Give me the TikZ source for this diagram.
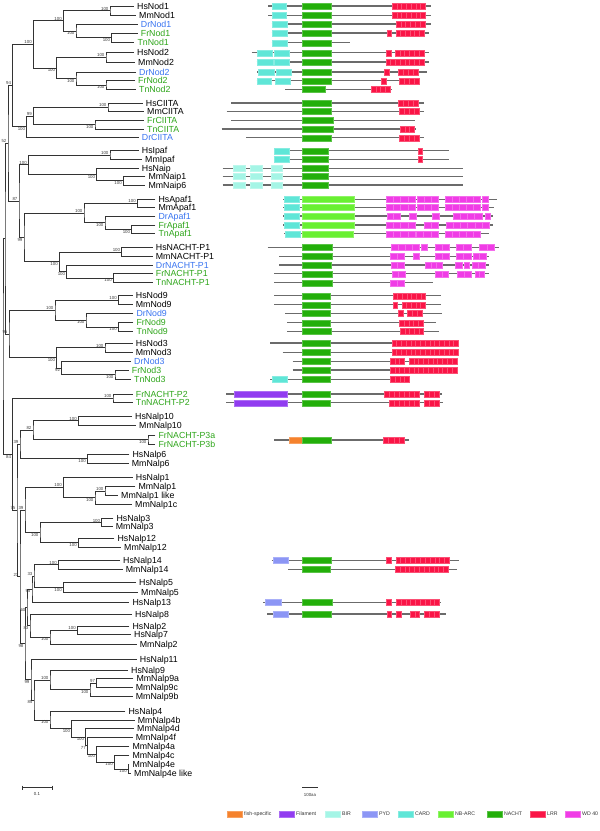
\documentclass[tikz,border=0pt]{standalone}
\usepackage{fontspec}
\setmainfont{Liberation Sans}
\usetikzlibrary{calc}

\definecolor{drblue}{RGB}{55,115,240}
\definecolor{fishgreen}{RGB}{45,165,25}
\definecolor{cCARD}{RGB}{95,230,215}
\definecolor{cBIR}{RGB}{165,245,230}
\definecolor{cNACHT}{RGB}{35,175,10}
\definecolor{cNBARC}{RGB}{105,240,50}
\definecolor{cLRR}{RGB}{250,20,70}
\definecolor{cWD}{RGB}{240,60,230}
\definecolor{cPYD}{RGB}{140,150,245}
\definecolor{cFil}{RGB}{145,60,240}
\definecolor{cFish}{RGB}{245,130,45}

% leaf: name, tip x, y, text, colour
\newcommand\leafat[5]{%
  \coordinate (#1) at (#2,#3);
  \node[leaf,text=#5] (#1-t) at (#1) {#4};}
% inner node: name, x, child, child
\newcommand\joinbare[4]{%
  \path let \p3=($(#3)!0.5!(#4)$) in coordinate (#1) at (#2pt,\y3);
  \draw[br] (#3) -| (#1) |- (#4);}
% inner node with bootstrap value
\newcommand\joinat[6]{%
  \joinbare{#1}{#2}{#3}{#4}
  \node[#6] (#1-bs) at (#1) {#5};}
% protein row: y, start, end, domains
\newcommand\protrow[4]{%
  \begin{scope}[yshift=-#1pt]
    \draw[bb] (#2,0) -- (#3,0);
    #4
  \end{scope}}
\newcommand\dbox[3]{\path[#1] (#2,-3) rectangle (#3,3);}
\newcommand\drep[4]{\foreach \k in {1,...,#4}{%
  \path[#1] ({#2+(\k-1)*(#3-#2)/#4},-3) rectangle ({#2+\k*(#3-#2)/#4},3);}}

\begin{document}
\begin{tikzpicture}[x=1pt,y=-1pt,
    br/.style={line width=0.75pt,black!80},
    bb/.style={line width=1.1pt,black!58},
    leaf/.style={anchor=base west,inner xsep=3pt,inner ysep=0pt,yshift=-3.1pt,
      font=\fontsize{8.8}{9}\selectfont},
    bsup/.style={anchor=south east,inner sep=0.4pt,xshift=-1pt,
      font=\fontsize{4.4}{5}\selectfont,text=black!75},
    bsdn/.style={bsup,anchor=north east},
    dcard/.style={fill=cCARD,draw=cCARD!75!white,line width=0.25pt},
    dbir/.style={fill=cBIR,draw=cBIR!75!white,line width=0.25pt},
    dnacht/.style={fill=cNACHT,draw=cNACHT!75!white,line width=0.25pt},
    dnbarc/.style={fill=cNBARC,draw=cNBARC!75!white,line width=0.25pt},
    dlrr/.style={fill=cLRR,draw=cLRR!75!white,line width=0.25pt},
    dwd/.style={fill=cWD,draw=cWD!75!white,line width=0.25pt},
    dpyd/.style={fill=cPYD,draw=cPYD!75!white,line width=0.25pt},
    dfil/.style={fill=cFil,draw=cFil!75!white,line width=0.25pt},
    dfish/.style={fill=cFish,draw=cFish!75!white,line width=0.25pt},
    lg/.style={anchor=west,inner sep=0pt,font=\fontsize{5.2}{6}\selectfont,text=black!80},
    sc/.style={inner sep=0pt,font=\fontsize{4.4}{5}\selectfont,text=black!80}]
  \useasboundingbox (0,0) rectangle (600,831);

  % leaves
  \leafat{HsNod1}{134}{6}{HsNod1}{black}
  \leafat{MmNod1}{136}{15.3}{MmNod1}{black}
  \leafat{DrNod1}{137.7}{24}{DrNod1}{drblue}
  \leafat{FrNod1}{137.7}{33}{FrNod1}{fishgreen}
  \leafat{TnNod1}{134.3}{42.7}{TnNod1}{fishgreen}
  \leafat{HsNod2}{134}{52.7}{HsNod2}{black}
  \leafat{MmNod2}{135}{62}{MmNod2}{black}
  \leafat{DrNod2}{136}{72}{DrNod2}{drblue}
  \leafat{FrNod2}{135}{80.7}{FrNod2}{fishgreen}
  \leafat{TnNod2}{136}{89.3}{TnNod2}{fishgreen}
  \leafat{HsCIITA}{142.7}{103}{HsCIITA}{black}
  \leafat{MmCIITA}{144}{111.5}{MmCIITA}{black}
  \leafat{FrCIITA}{144}{120.3}{FrCIITA}{fishgreen}
  \leafat{TnCIITA}{144}{129}{TnCIITA}{fishgreen}
  \leafat{DrCIITA}{138.7}{137.7}{DrCIITA}{drblue}
  \leafat{HsIpaf}{138.7}{150.7}{HsIpaf}{black}
  \leafat{MmIpaf}{142}{159.3}{MmIpaf}{black}
  \leafat{HsNaip}{138.7}{168.3}{HsNaip}{black}
  \leafat{MmNaip1}{145.3}{176.5}{MmNaip1}{black}
  \leafat{MmNaip6}{145.3}{185}{MmNaip6}{black}
  \leafat{HsApaf1}{155.3}{199.3}{HsApaf1}{black}
  \leafat{MmApaf1}{155.3}{207.5}{MmApaf1}{black}
  \leafat{DrApaf1}{155.3}{216}{DrApaf1}{drblue}
  \leafat{FrApaf1}{155.3}{225}{FrApaf1}{fishgreen}
  \leafat{TnApaf1}{155.3}{233.7}{TnApaf1}{fishgreen}
  \leafat{HsNACHT-P1}{152.7}{247.5}{HsNACHT-P1}{black}
  \leafat{MmNACHT-P1}{152.7}{256.3}{MmNACHT-P1}{black}
  \leafat{DrNACHT-P1}{152.7}{265}{DrNACHT-P1}{drblue}
  \leafat{FrNACHT-P1}{152.7}{273.7}{FrNACHT-P1}{fishgreen}
  \leafat{TnNACHT-P1}{152.7}{282.7}{TnNACHT-P1}{fishgreen}
  \leafat{HsNod9}{132.7}{295.7}{HsNod9}{black}
  \leafat{MmNod9}{132.7}{304.8}{MmNod9}{black}
  \leafat{DrNod9}{133.3}{313.5}{DrNod9}{drblue}
  \leafat{FrNod9}{133.3}{322.7}{FrNod9}{fishgreen}
  \leafat{TnNod9}{133.3}{331.5}{TnNod9}{fishgreen}
  \leafat{HsNod3}{132.7}{343}{HsNod3}{black}
  \leafat{MmNod3}{132.7}{352.5}{MmNod3}{black}
  \leafat{DrNod3}{131}{361.3}{DrNod3}{drblue}
  \leafat{FrNod3}{128.7}{370}{FrNod3}{fishgreen}
  \leafat{TnNod3}{131}{379.2}{TnNod3}{fishgreen}
  \leafat{FrNACHT-P2}{132.7}{394}{FrNACHT-P2}{fishgreen}
  \leafat{TnNACHT-P2}{132.7}{402.8}{TnNACHT-P2}{fishgreen}
  \leafat{HsNalp10}{132}{416}{HsNalp10}{black}
  \leafat{MmNalp10}{136}{425.3}{MmNalp10}{black}
  \leafat{FrNACHT-P3a}{155.3}{435.3}{FrNACHT-P3a}{fishgreen}
  \leafat{FrNACHT-P3b}{155.3}{444}{FrNACHT-P3b}{fishgreen}
  \leafat{HsNalp6}{129.3}{454}{HsNalp6}{black}
  \leafat{MmNalp6}{128.7}{463.3}{MmNalp6}{black}
  \leafat{HsNalp1}{132.7}{477.3}{HsNalp1}{black}
  \leafat{MmNalp1}{135.3}{486.7}{MmNalp1}{black}
  \leafat{MmNalp1like}{118}{495.3}{MmNalp1 like}{black}
  \leafat{MmNalp1c}{132}{504}{MmNalp1c}{black}
  \leafat{HsNalp3}{113.3}{518.7}{HsNalp3}{black}
  \leafat{MmNalp3}{112.7}{526.7}{MmNalp3}{black}
  \leafat{HsNalp12}{114.3}{538}{HsNalp12}{black}
  \leafat{MmNalp12}{121}{547.3}{MmNalp12}{black}
  \leafat{HsNalp14}{120}{560.3}{HsNalp14}{black}
  \leafat{MmNalp14}{122.7}{569.3}{MmNalp14}{black}
  \leafat{HsNalp5}{136}{582.7}{HsNalp5}{black}
  \leafat{MmNalp5}{138}{592}{MmNalp5}{black}
  \leafat{HsNalp13}{129.3}{602.5}{HsNalp13}{black}
  \leafat{HsNalp8}{132}{614}{HsNalp8}{black}
  \leafat{HsNalp2}{129.3}{626.7}{HsNalp2}{black}
  \leafat{HsNalp7}{131}{634.5}{HsNalp7}{black}
  \leafat{MmNalp2}{136.7}{644}{MmNalp2}{black}
  \leafat{HsNalp11}{136.7}{659.3}{HsNalp11}{black}
  \leafat{HsNalp9}{128}{670}{HsNalp9}{black}
  \leafat{MmNalp9a}{133.3}{678.5}{MmNalp9a}{black}
  \leafat{MmNalp9c}{132.7}{687.3}{MmNalp9c}{black}
  \leafat{MmNalp9b}{132.7}{696.7}{MmNalp9b}{black}
  \leafat{HsNalp4}{125.3}{711.3}{HsNalp4}{black}
  \leafat{MmNalp4b}{134.7}{720}{MmNalp4b}{black}
  \leafat{MmNalp4d}{134}{728.7}{MmNalp4d}{black}
  \leafat{MmNalp4f}{132.7}{737.3}{MmNalp4f}{black}
  \leafat{MmNalp4a}{129.3}{746}{MmNalp4a}{black}
  \leafat{MmNalp4c}{129.3}{755.3}{MmNalp4c}{black}
  \leafat{MmNalp4e}{129.3}{764.5}{MmNalp4e}{black}
  \leafat{MmNalp4elike}{131}{773.3}{MmNalp4e like}{black}

  % Nod1 / Nod2 / CIITA
  \joinat{a1}{110}{HsNod1}{MmNod1}{100}{bsup}
  \joinat{a2}{111.7}{FrNod1}{TnNod1}{100}{bsdn}
  \joinat{a3}{76}{DrNod1}{a2}{100}{bsdn}
  \joinat{a4}{63.3}{a1}{a3}{100}{bsup}
  \joinat{b1}{106}{HsNod2}{MmNod2}{100}{bsup}
  \joinat{b2}{106}{FrNod2}{TnNod2}{100}{bsdn}
  \joinat{b3}{76}{DrNod2}{b2}{100}{bsdn}
  \joinat{b4}{56.7}{b1}{b3}{100}{bsdn}
  \joinat{nod}{33.3}{a4}{b4}{100}{bsup}
  \joinat{c1}{108}{HsCIITA}{MmCIITA}{100}{bsup}
  \joinat{c2}{95}{FrCIITA}{TnCIITA}{100}{bsdn}
  \joinat{c3}{33.3}{c1}{c2}{99}{bsup}
  \joinat{c4}{26.7}{c3}{DrCIITA}{100}{bsdn}
  \joinat{n94}{12.7}{nod}{c4}{94}{bsup}
  % Ipaf / Naip / Apaf1 / NACHT-P1
  \joinat{d1}{110}{HsIpaf}{MmIpaf}{100}{bsup}
  \joinat{d2}{123.3}{MmNaip1}{MmNaip6}{100}{bsdn}
  \joinat{d3}{96.7}{HsNaip}{d2}{100}{bsdn}
  \joinat{d4}{28.3}{d1}{d3}{100}{bsup}
  \joinat{e1}{137.3}{HsApaf1}{MmApaf1}{100}{bsup}
  \joinat{e2}{131.7}{FrApaf1}{TnApaf1}{100}{bsdn}
  \joinat{e3}{105}{DrApaf1}{e2}{100}{bsdn}
  \joinat{e4}{84}{e1}{e3}{100}{bsup}
  \joinat{f1}{121.7}{HsNACHT-P1}{MmNACHT-P1}{100}{bsup}
  \joinat{f2}{113.3}{FrNACHT-P1}{TnNACHT-P1}{100}{bsdn}
  \joinat{f3}{66.7}{DrNACHT-P1}{f2}{100}{bsdn}
  \joinat{f4}{59.3}{f1}{f3}{100}{bsdn}
  \joinat{e5}{24}{e4}{f4}{99}{bsdn}
  \joinat{n87}{19}{d4}{e5}{87}{bsup}
  \joinat{n52}{8}{n94}{n87}{52}{bsup}
  % Nod9 / Nod3
  \joinat{h1}{118.3}{HsNod9}{MmNod9}{100}{bsup}
  \joinat{h2}{118.3}{FrNod9}{TnNod9}{100}{bsdn}
  \joinat{h3}{86}{DrNod9}{h2}{100}{bsdn}
  \joinat{h4}{55}{h1}{h3}{100}{bsup}
  \joinat{i1}{105}{HsNod3}{MmNod3}{100}{bsup}
  \joinat{i2}{115}{FrNod3}{TnNod3}{100}{bsdn}
  \joinat{i3}{61.7}{DrNod3}{i2}{92}{bsdn}
  \joinat{i4}{56.7}{i1}{i3}{100}{bsdn}
  \joinat{n95}{9}{h4}{i4}{95}{bsup}
  \joinbare{up}{5}{n52}{n95}
  % NACHT-P2 / Nalps
  \joinat{p1}{113}{FrNACHT-P2}{TnNACHT-P2}{100}{bsup}
  \joinat{q1}{78.3}{HsNalp10}{MmNalp10}{100}{bsup}
  \joinat{q2}{148}{FrNACHT-P3a}{FrNACHT-P3b}{100}{bsdn}
  \joinat{q3}{33}{q1}{q2}{82}{bsup}
  \joinat{q4}{87.3}{HsNalp6}{MmNalp6}{100}{bsdn}
  \joinat{q5}{20}{q3}{q4}{39}{bsup}
  \joinat{r1}{105}{MmNalp1}{MmNalp1like}{100}{bsup}
  \joinat{r2}{95}{r1}{MmNalp1c}{100}{bsdn}
  \joinat{r3}{63.3}{HsNalp1}{r2}{100}{bsup}
  \joinat{s1}{101.7}{HsNalp3}{MmNalp3}{100}{bsup}
  \joinat{s2}{78.3}{HsNalp12}{MmNalp12}{100}{bsdn}
  \joinat{s3}{40}{s1}{s2}{100}{bsdn}
  \joinat{t1}{25}{r3}{s3}{39}{bsup}
  \joinat{u1}{58.3}{HsNalp14}{MmNalp14}{100}{bsup}
  \joinat{u2}{63.3}{HsNalp5}{MmNalp5}{100}{bsdn}
  \joinat{u3}{34}{u1}{u2}{33}{bsup}
  \joinat{u4}{32}{u3}{HsNalp13}{95}{bsdn}
  \joinat{v1}{77.3}{HsNalp2}{HsNalp7}{100}{bsup}
  \joinat{v2}{50}{v1}{MmNalp2}{100}{bsdn}
  \joinat{v3}{30}{HsNalp8}{v2}{83}{bsdn}
  \joinat{v4}{27}{u4}{v3}{60}{bsdn}
  \joinat{x1}{96.7}{MmNalp9a}{MmNalp9c}{97}{bsup}
  \joinat{x2}{90}{x1}{MmNalp9b}{100}{bsdn}
  \joinat{x3}{50}{HsNalp9}{x2}{100}{bsup}
  \joinat{y1}{128.3}{MmNalp4e}{MmNalp4elike}{100}{bsdn}
  \joinat{y2}{114.3}{MmNalp4c}{y1}{100}{bsdn}
  \joinat{y3}{96.7}{MmNalp4a}{y2}{100}{bsdn}
  \joinat{y4}{87.3}{MmNalp4f}{y3}{77}{bsdn}
  \joinat{y5}{85.7}{MmNalp4d}{y4}{100}{bsdn}
  \joinat{y6}{71.7}{MmNalp4b}{y5}{100}{bsdn}
  \joinat{y7}{50}{HsNalp4}{y6}{100}{bsdn}
  \joinat{y8}{34}{x3}{y7}{85}{bsdn}
  \joinat{x4}{31}{HsNalp11}{y8}{99}{bsdn}
  \joinat{z1}{25}{v4}{x4}{98}{bsdn}
  \joinat{w1}{20}{t1}{z1}{23}{bsup}
  \joinat{n75}{17}{q5}{w1}{75}{bsup}
  \joinat{n84}{12.7}{p1}{n75}{84}{bsdn}
  \joinbare{root}{3}{up}{n84}

  % tree scale
  \coordinate (sa) at (22,787.7);
  \coordinate (sb) at (52,787.7);
  \draw[br,line width=0.6pt] (sa) -- (sb) ($(sa)+(0,-2)$) -- ($(sa)+(0,2)$) ($(sb)+(0,-2)$) -- ($(sb)+(0,2)$);
  \node[sc] (sc-t) at (37,793.5) {0.1};

  % domain architectures
  \protrow{6}{268.3}{430.7}{\dbox{dcard}{271.7}{286}\dbox{dnacht}{301.7}{331}\drep{dlrr}{392}{425.3}{7}}
  \protrow{15.3}{268.3}{430.7}{\dbox{dcard}{271.7}{286}\dbox{dnacht}{301.7}{331}\drep{dlrr}{392}{425.3}{7}}
  \protrow{24}{271.7}{430.7}{\dbox{dcard}{271.7}{286.7}\dbox{dnacht}{301.7}{331}\drep{dlrr}{396}{424.7}{6}}
  \protrow{33}{271.7}{429.3}{\dbox{dcard}{271.7}{286.7}\dbox{dnacht}{301.7}{331}\drep{dlrr}{386.7}{391.3}{1}\drep{dlrr}{395.7}{424}{6}}
  \protrow{42.7}{271.7}{350}{\dbox{dcard}{271.7}{286.7}\dbox{dnacht}{301.7}{331}}
  \protrow{52.7}{251.7}{429.3}{\dbox{dcard}{257.3}{272.3}\dbox{dcard}{274}{289}\dbox{dnacht}{301.7}{331}\drep{dlrr}{385.7}{391}{1}\drep{dlrr}{395}{423.7}{6}}
  \protrow{62}{256.7}{429.3}{\dbox{dcard}{257.3}{273.3}\dbox{dcard}{274}{289}\dbox{dnacht}{301.7}{331}\drep{dlrr}{385.7}{423.7}{8}}
  \protrow{72}{257.3}{426.7}{\dbox{dcard}{258}{274}\dbox{dcard}{276}{290.7}\dbox{dnacht}{301.7}{331}\drep{dlrr}{384}{389.3}{1}\drep{dlrr}{398.3}{417.7}{4}}
  \protrow{80.7}{256.7}{419.3}{\dbox{dcard}{257.3}{270.7}\dbox{dcard}{275}{289.7}\dbox{dnacht}{301.7}{331}\drep{dlrr}{381}{385.7}{1}\drep{dlrr}{399.3}{419}{4}}
  \protrow{89.3}{285}{391.7}{\dbox{dnacht}{301.7}{325}\drep{dlrr}{371}{390}{4}}
  \protrow{103}{231}{424}{\dbox{dnacht}{301.7}{331}\drep{dlrr}{398.3}{418.3}{4}}
  \protrow{111.5}{226.7}{424}{\dbox{dnacht}{301.7}{331}\drep{dlrr}{399}{418.7}{4}}
  \protrow{120.3}{231}{415}{\dbox{dnacht}{301.7}{332.7}}
  \protrow{129}{221.7}{416}{\dbox{dnacht}{302.3}{333.3}\drep{dlrr}{400}{414}{3}}
  \protrow{137.7}{246}{424}{\dbox{dnacht}{301.7}{331}\drep{dlrr}{399.3}{418.7}{4}}
  \protrow{150.7}{274}{448.7}{\dbox{dcard}{274}{289}\dbox{dnacht}{301.7}{327.7}\drep{dlrr}{418.3}{422.3}{1}}
  \protrow{159.3}{274}{448.7}{\dbox{dcard}{274}{289}\dbox{dnacht}{301.7}{327.7}\drep{dlrr}{418.3}{422.3}{1}}
  \foreach \yy in {168.3,176.5,185}{
    \protrow{\yy}{222.7}{462.7}{\dbox{dbir}{233.3}{245}\dbox{dbir}{250}{262}\dbox{dbir}{270.7}{282}\dbox{dnacht}{301.7}{328.3}}}
  \protrow{199.3}{283.3}{497}{\dbox{dcard}{284}{298.7}\dbox{dnbarc}{301.7}{354}\drep{dwd}{386}{415}{4}\drep{dwd}{416.7}{438.3}{3}\drep{dwd}{445}{480}{5}\drep{dwd}{482.3}{487.7}{1}}
  \protrow{207.5}{283.3}{494}{\dbox{dcard}{284}{298.7}\dbox{dnbarc}{301.7}{354}\drep{dwd}{386}{415}{4}\drep{dwd}{416.7}{438.3}{3}\drep{dwd}{445}{480}{5}\drep{dwd}{482.3}{487.7}{1}}
  \protrow{216}{283.3}{492.7}{\dbox{dcard}{284}{298.7}\dbox{dnbarc}{301.7}{354}\drep{dwd}{386.7}{400}{2}\drep{dwd}{409}{415.7}{1}\drep{dwd}{432.3}{439}{1}\drep{dwd}{453.3}{481.7}{4}\drep{dwd}{485}{490}{1}}
  \protrow{225}{283.3}{492.7}{\dbox{dcard}{284}{298.7}\dbox{dnbarc}{301.7}{354}\drep{dwd}{386}{415}{4}\drep{dwd}{424}{438.3}{2}\drep{dwd}{445.7}{489.3}{6}}
  \protrow{233.7}{284}{489.3}{\dbox{dcard}{285}{300}\dbox{dnbarc}{301.7}{353.3}\drep{dwd}{385.7}{415}{4}\drep{dwd}{415.7}{438.3}{3}\drep{dwd}{445}{480}{5}}
  \protrow{247.5}{267.7}{499}{\dbox{dnacht}{301.7}{331.7}\drep{dwd}{390.7}{419.3}{4}\drep{dwd}{421}{427.3}{1}\drep{dwd}{435}{449}{2}\drep{dwd}{456}{471}{2}\drep{dwd}{479.3}{494}{2}}
  \protrow{256.3}{279.3}{489.3}{\dbox{dnacht}{301.7}{331.7}\drep{dwd}{390}{404}{2}\drep{dwd}{412.7}{419.3}{1}\drep{dwd}{435}{449}{2}\drep{dwd}{456}{470.7}{2}\drep{dwd}{472.7}{486}{2}}
  \protrow{265}{279.3}{489.3}{\dbox{dnacht}{301.7}{331}\drep{dwd}{390.7}{404}{2}\drep{dwd}{425}{442.3}{3}\drep{dwd}{455}{461.7}{1}\drep{dwd}{464.3}{469.3}{1}\drep{dwd}{471.7}{485}{2}}
  \protrow{273.7}{274}{489.3}{\dbox{dnacht}{302.3}{331.7}\drep{dwd}{391.7}{405}{2}\drep{dwd}{435}{448.3}{2}\drep{dwd}{456.7}{470.7}{2}\drep{dwd}{475}{484}{2}}
  \protrow{282.7}{274}{432.7}{\dbox{dnacht}{302.3}{331.7}\drep{dwd}{390}{404}{2}}
  \protrow{295.7}{274}{440.7}{\dbox{dnacht}{301.7}{330}\drep{dlrr}{392.7}{425.3}{7}}
  \protrow{304.8}{274}{440.7}{\dbox{dnacht}{301.7}{330}\drep{dlrr}{392.7}{397.3}{1}\drep{dlrr}{401.7}{425.3}{5}}
  \protrow{313.5}{285.3}{441.7}{\dbox{dnacht}{301.7}{330}\drep{dlrr}{398.3}{403}{1}\drep{dlrr}{407.3}{421.7}{3}}
  \protrow{322.7}{287.3}{436}{\dbox{dnacht}{301.7}{330}\drep{dlrr}{399.3}{422.7}{5}}
  \protrow{331.5}{287.3}{438.7}{\dbox{dnacht}{301.7}{330.7}\drep{dlrr}{400}{423.3}{5}}
  \protrow{343}{270}{459.3}{\dbox{dnacht}{301.7}{330}\drep{dlrr}{391.7}{458.3}{14}}
  \protrow{352.5}{282.7}{459.3}{\dbox{dnacht}{301.7}{330}\drep{dlrr}{391.7}{458.3}{14}}
  \protrow{361.3}{292.7}{458}{\dbox{dnacht}{301.7}{330}\drep{dlrr}{390}{404.3}{3}\drep{dlrr}{409}{456.7}{10}}
  \protrow{370}{292.7}{458}{\dbox{dnacht}{301.7}{330}\drep{dlrr}{390}{456.7}{14}}
  \protrow{379.2}{270}{410}{\dbox{dcard}{272.3}{287.3}\dbox{dnacht}{301.7}{330}\drep{dlrr}{390}{409.3}{4}}
  \protrow{394}{226}{441.7}{\dbox{dfil}{234}{287.3}\dbox{dnacht}{301.7}{330}\drep{dlrr}{384.3}{419.3}{7}\drep{dlrr}{424.3}{439}{3}}
  \protrow{402.8}{226}{442.7}{\dbox{dfil}{234}{287.3}\dbox{dnacht}{301.7}{330}\drep{dlrr}{388.7}{419}{6}\drep{dlrr}{424}{438.7}{3}}
  \protrow{440}{274}{409.3}{\dbox{dfish}{289}{302}\dbox{dnacht}{302}{330.7}\drep{dlrr}{383.3}{404.3}{4}}
  \protrow{560.3}{271.7}{458.7}{\dbox{dpyd}{273.3}{288}\dbox{dnacht}{302}{331}\drep{dlrr}{386.3}{391}{1}\drep{dlrr}{395.7}{449.3}{11}}
  \protrow{569.3}{288}{457.3}{\dbox{dnacht}{301.7}{330.3}\drep{dlrr}{395}{448.3}{11}}
  \protrow{602.5}{263.3}{440.7}{\dbox{dpyd}{265}{280.7}\dbox{dnacht}{302}{331.7}\drep{dlrr}{386.3}{391}{1}\drep{dlrr}{396}{439.3}{9}}
  \protrow{614}{267.3}{446}{\dbox{dpyd}{273.3}{288}\dbox{dnacht}{302}{331}\drep{dlrr}{386.7}{391.3}{1}\drep{dlrr}{396}{400.7}{1}\drep{dlrr}{410}{419.3}{2}\drep{dlrr}{424}{439}{3}}

  % domain scale
  \coordinate (da) at (302,787.7);
  \coordinate (db) at (318,787.7);
  \draw[line width=0.6pt,black!80] (da) -- (db);
  \node[sc] (sc-d) at (310,795) {100aa};

  % legend
  \foreach \st/\xa/\lab in {dfish/227/fish-specific,dfil/279/Filament,dbir/325/BIR,
      dpyd/362/PYD,dcard/398/CARD,dnbarc/438/NB-ARC,dnacht/487/NACHT,dlrr/530/LRR,dwd/565/WD 40}{
    \path[\st] (\xa,810.8) rectangle ++(15,6.5);
    \node[lg] (lg-\st) at ({\xa+17},814) {\lab};
  }
\end{tikzpicture}
\end{document}
